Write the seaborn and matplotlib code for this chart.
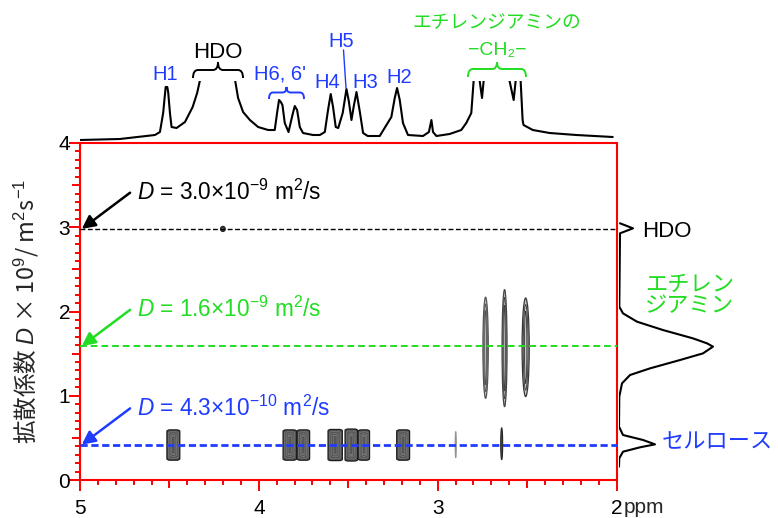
import matplotlib
matplotlib.use('Agg')
import matplotlib.pyplot as plt
import pandas as pd
import seaborn as sns
from matplotlib.patches import Ellipse, PathPatch, FancyBboxPatch
from matplotlib.path import Path
from matplotlib.ticker import MultipleLocator, FuncFormatter

W, H = 778, 518

# 1H projection (top trace): chemical shift / ppm and intensity
h1_ppm = [5.000, 4.777, 4.581, 4.553, 4.535, 4.521, 4.512, 4.507, 4.497, 4.488,
          4.460, 4.413, 4.370, 4.345, 4.330, 4.229, 4.132, 4.116, 4.088, 4.050,
          4.004, 3.948, 3.911, 3.898, 3.887, 3.877, 3.868, 3.855, 3.834, 3.812,
          3.799, 3.786, 3.771, 3.753, 3.697, 3.659, 3.631, 3.613, 3.598, 3.585,
          3.570, 3.556, 3.531, 3.510, 3.497, 3.482, 3.469, 3.454, 3.436, 3.417,
          3.391, 3.324, 3.259, 3.240, 3.227, 3.212, 3.194, 3.166, 3.082, 3.049,
          3.035, 3.026, 3.007, 2.933, 2.868, 2.840, 2.812, 2.799, 2.782, 2.765,
          2.752, 2.743, 2.670, 2.598, 2.575, 2.564, 2.553, 2.536, 2.525, 2.520,
          2.468, 2.374, 2.225, 2.021]
h1_int = [1, 2, 6, 9, 28, 54, 54, 49, 28, 14,
          13, 19, 34, 48, 60, 150, 60, 43, 29, 21,
          14, 11, 11, 28, 41, 39, 36, 18, 9, 26,
          35, 31, 14, 8, 6, 6, 9, 31, 47, 34,
          14, 13, 28, 52, 40, 21, 35, 49, 30, 8,
          5, 5, 24, 43, 53, 41, 18, 6, 5, 9,
          21, 9, 5, 7, 11, 18, 28, 60, 100, 60,
          43, 60, 100, 60, 41, 60, 100, 60, 21, 16,
          11, 8, 6, 4]

# diffusion projection (right trace): D / 1e-9 m2 s-1 and intensity
proj_D = [3.047, 2.987, 2.928, 2.057, 1.978, 1.879, 1.780, 1.681, 1.622, 1.583,
          1.503, 1.424, 1.325, 1.246, 1.147, 0.989, 0.633, 0.534, 0.475, 0.423,
          0.388, 0.336, 0.257, 0.158]
proj_int = [1, 14, 1, 0.3, 4, 18, 44, 74, 88, 94,
            84, 61, 31, 11, 3, 0.3, 0, 4, 24, 36,
            21, 4, 0.3, 0]

# DOSY cross peaks: centre (ppm, D), extent (ppm, D), relative intensity
peak_ppm = [4.478, 3.827, 3.751, 3.573, 3.483, 3.413, 3.193, 2.899, 2.642,
            2.732, 2.626, 2.508, 4.201]
peak_D = [0.415, 0.415, 0.415, 0.415, 0.415, 0.415, 0.415, 0.42, 0.43,
          1.57, 1.565, 1.575, 2.98]
peak_dppm = [0.072, 0.075, 0.070, 0.080, 0.070, 0.064, 0.072, 0.006, 0.011,
             0.03, 0.028, 0.04, 0.026]
peak_dD = [0.36, 0.36, 0.36, 0.37, 0.38, 0.36, 0.36, 0.31, 0.38,
           1.2, 1.39, 1.17, 0.06]
peak_level = [1, 1, 1, 1, 1, 1, 1, 0.3, 1, 0.7, 0.8, 0.9, 1]

# diffusion coefficients of the three species
diff_D = [2.98, 1.59, 0.42]
diff_text = ['3.0×10$^{-9}$', '1.6×10$^{-9}$', '4.3×10$^{-10}$']
diff_species = ['HDO', 'エチレン\nジアミン', 'セルロース']

BLACK, GREEN, BLUE, RED = '#000000', '#22dd22', '#1f3cff', '#ff0000'
diff_colors = [BLACK, GREEN, BLUE]

sns.set_theme(style='white')
plt.rcParams['font.family'] = ['Liberation Sans', 'Noto Sans CJK JP', 'DejaVu Sans']
plt.rcParams['mathtext.fontset'] = 'custom'
plt.rcParams['mathtext.rm'] = 'Liberation Sans'
plt.rcParams['mathtext.it'] = 'Liberation Sans:italic'
plt.rcParams['mathtext.bf'] = 'Liberation Sans:bold'

fig = plt.figure(figsize=(W / 100, H / 100), dpi=100)
fig.patch.set_facecolor('white')


def px_box(x0, y0, x1, y1):
    return [x0 / W, 1 - y1 / H, (x1 - x0) / W, (y1 - y0) / H]


# ---- DOSY map ----
ax = fig.add_axes(px_box(80, 143, 616.5, 480))
for p, d, w, h, lv in zip(peak_ppm, peak_D, peak_dppm, peak_dD, peak_level):
    grey = 0.15 + 0.6 * (1 - lv)
    if w > 0.05:
        # broad cellulose peaks: stacked rounded boxes
        for k in range(4):
            s = 1 - k / 4
            ww, hh = w * s, h * (0.5 + 0.5 * s)
            ax.add_patch(FancyBboxPatch((p - ww / 2, d - hh / 2), ww, hh,
                                        boxstyle='round,pad=0,rounding_size=0.018',
                                        facecolor='#555555' if k == 0 else 'none',
                                        edgecolor='#1e1e1e' if k == 0 else '#7a7a7a',
                                        lw=0.9 if k == 0 else 0.5, zorder=2))
    elif w > 0.02:
        # narrow, elongated peaks (ethylenediamine)
        ax.add_patch(Ellipse((p, d), w, h, facecolor='#c8c8c8',
                             edgecolor=(grey,) * 3, lw=0.9, zorder=2))
        for k in range(1, 3):
            s = 1 - k / 3
            ax.add_patch(Ellipse((p, d), w * s, h * (0.6 + 0.4 * s), facecolor='none',
                                 edgecolor=(grey,) * 3, lw=0.6, zorder=2))
    else:
        ax.add_patch(Ellipse((p, d), w, h, facecolor=(grey + 0.15,) * 3,
                             edgecolor=(grey,) * 3, lw=0.8, zorder=2))

dash_sets = [(1.0, (3.5, 1.8)), (1.4, (3.5, 2.0)), (2.0, (2.6, 1.3))]
for d, txt, col, (lw, dash) in zip(diff_D, diff_text, diff_colors, dash_sets):
    ax.axhline(d, color=col, lw=lw, ls=(0, dash), zorder=3)
    ax.annotate('', xy=(4.99, d), xytext=(4.72, d + 0.43),
                arrowprops=dict(arrowstyle='-|>', color=col, lw=1.8,
                                mutation_scale=20, shrinkA=0, shrinkB=0))
    ax.text(4.68, d + 0.345, '$D$ = ' + txt + ' m$^2$/s', color=col,
            fontsize=16.3, va='baseline', ha='left')

ax.set_xlim(5, 2)
ax.set_ylim(0, 4)
ax.set_xlabel('')
ax.set_ylabel('')
for sp in ax.spines.values():
    sp.set_color(RED)
    sp.set_linewidth(1.5)
    sp.set_visible(True)

ax.xaxis.set_major_locator(MultipleLocator(0.5))
ax.xaxis.set_minor_locator(MultipleLocator(0.1))
ax.yaxis.set_major_locator(MultipleLocator(0.5))
ax.yaxis.set_minor_locator(MultipleLocator(0.1))
int_fmt = FuncFormatter(lambda v, pos: f'{v:.0f}' if abs(v - round(v)) < 1e-6 else '')
ax.xaxis.set_major_formatter(int_fmt)
ax.yaxis.set_major_formatter(int_fmt)
ax.tick_params(which='both', direction='out', color=RED, width=1.4,
               labelsize=15, labelcolor='black', bottom=True, left=True,
               top=False, right=False)
ax.tick_params(which='major', length=6)
ax.tick_params(which='minor', length=3.6)
ax.tick_params(axis='y', which='both', pad=1)
ax.tick_params(axis='x', which='both', pad=8)
for axis in (ax.xaxis, ax.yaxis):
    locs = axis.get_majorticklocs()
    for loc, t in zip(locs, axis.get_major_ticks(len(locs))):
        if abs(loc - round(loc)) < 1e-6:
            t.tick1line.set_markersize(8)

# ---- 1H projection on top ----
ax_top = fig.add_axes(px_box(80, 81, 616.5, 141))
ax_top.patch.set_visible(False)
df_top = pd.DataFrame({'ppm': h1_ppm, 'intensity': h1_int})
sns.lineplot(data=df_top, x='ppm', y='intensity', ax=ax_top, color='black',
             lw=1.5, estimator=None, sort=False)
ax_top.set_xlim(5, 2)
ax_top.set_ylim(0, 60)
ax_top.axis('off')

# ---- diffusion projection on the right ----
ax_r = fig.add_axes(px_box(619, 143, 739, 480))
ax_r.patch.set_visible(False)
df_r = pd.DataFrame({'D': proj_D, 'intensity': proj_int})
sns.lineplot(data=df_r, x='intensity', y='D', ax=ax_r, color='black', lw=1.5,
             estimator=None, sort=False, orient='y')
ax_r.set_xlim(0, 120)
ax_r.set_ylim(0, 4)
ax_r.axis('off')

# ---- labels / braces in pixel space ----
ov = fig.add_axes([0, 0, 1, 1], zorder=5)
ov.set_xlim(0, W)
ov.set_ylim(H, 0)
ov.axis('off')
ov.patch.set_visible(False)


def brace(x0, x1, y_end, y_mid, y_tip, color, r=5):
    xc = (x0 + x1) / 2
    verts = [(x0, y_end), (x0, y_mid), (x0 + r, y_mid), (xc - r, y_mid),
             (xc, y_mid), (xc, y_tip), (xc, y_mid), (xc + r, y_mid),
             (x1 - r, y_mid), (x1, y_mid), (x1, y_end)]
    codes = [Path.MOVETO, Path.CURVE3, Path.CURVE3, Path.LINETO,
             Path.CURVE3, Path.CURVE3, Path.CURVE3, Path.CURVE3,
             Path.LINETO, Path.CURVE3, Path.CURVE3]
    ov.add_patch(PathPatch(Path(verts, codes), facecolor='none',
                           edgecolor=color, lw=1.4))


brace(193, 243, 78, 70, 62, BLACK)
brace(269, 304, 99, 92.5, 87, BLUE, r=4)
brace(468, 526, 77, 69, 62, GREEN)

top_labels = [('H1', 165, 80), ("H6, 6'", 280, 80), ('H4', 327.5, 88),
              ('H5', 341, 47), ('H3', 365, 88), ('H2', 399.5, 83)]
for s, x, y in top_labels:
    ov.text(x, y, s, color=BLUE, fontsize=14.5, ha='center', va='baseline')
ov.plot([343.5, 346], [50, 88], color=BLUE, lw=1)
ov.text(218, 58, 'HDO', color=BLACK, fontsize=16, ha='center', va='baseline')
ov.text(497, 24, 'エチレンジアミンの', color=GREEN, fontsize=13.5,
        ha='center', va='center')
ov.text(497, 55, '−CH₂−', color=GREEN, fontsize=14, ha='center', va='baseline')

# species labels next to the diffusion projection
ov.text(642, 237, diff_species[0], color=BLACK, fontsize=16, ha='left', va='baseline')
ov.text(645, 296, diff_species[1], color=GREEN, fontsize=16, ha='left',
        va='center', linespacing=1.05)
ov.text(662, 443, diff_species[2], color=BLUE, fontsize=16, ha='left', va='center')

ov.text(624, 513, 'ppm', fontsize=15, ha='left', va='baseline')
ov.text(26, 311, '拡散係数 $D$ × 10$^{9}$/ m$^{2}$s$^{-1}$', fontsize=17,
        family='Noto Sans CJK JP', rotation=90, ha='center', va='center')

fig.savefig('out.png', dpi=100, facecolor='white')
